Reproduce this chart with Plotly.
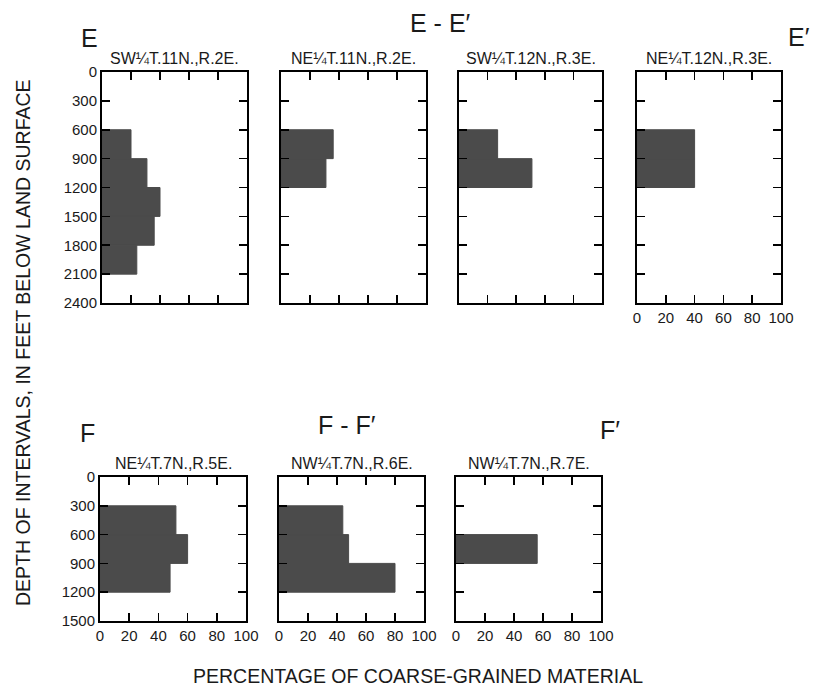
import plotly.graph_objects as go

# ---------------- data ----------------
interval = 300  # feet per interval

# E - E' section
e_titles = ["SW¼T.11N.,R.2E.", "NE¼T.11N.,R.2E.", "SW¼T.12N.,R.3E.", "NE¼T.12N.,R.3E."]
e1_top = [600, 900, 1200, 1500, 1800]
e1_pct = [20, 31, 40, 36, 24]
e2_top = [600, 900]
e2_pct = [36, 31]
e3_top = [600, 900]
e3_pct = [27, 51]
e4_top = [600, 900]
e4_pct = [40, 40]

# F - F' section
f_titles = ["NE¼T.7N.,R.5E.", "NW¼T.7N.,R.6E.", "NW¼T.7N.,R.7E."]
f1_top = [300, 600, 900]
f1_pct = [52, 60, 48]
f2_top = [300, 600, 900]
f2_pct = [44, 48, 80]
f3_top = [600]
f3_pct = [56]

x_ticks = [0, 20, 40, 60, 80, 100]
e_depth_ticks = [0, 300, 600, 900, 1200, 1500, 1800, 2100, 2400]
f_depth_ticks = [0, 300, 600, 900, 1200, 1500]

# ---------------- layout helpers ----------------
W, H = 814, 690
FONT = "Liberation Sans, Arial, Helvetica, sans-serif"
BAR = "#4b4b4b"
INK = "#1a1a1a"


def px_x(p):
    return p / W


def px_y(p):
    return 1 - p / H


panels = [
    # (tops, pct, title, x0, x1, y0, y1, maxdepth, yticks, show_y_labels, show_x_labels)
    (e1_top, e1_pct, e_titles[0], 102, 247, 72, 303, 2400, e_depth_ticks, True, False),
    (e2_top, e2_pct, e_titles[1], 281, 426, 72, 303, 2400, e_depth_ticks, False, False),
    (e3_top, e3_pct, e_titles[2], 459, 602, 72, 303, 2400, e_depth_ticks, False, False),
    (e4_top, e4_pct, e_titles[3], 637, 781, 72, 303, 2400, e_depth_ticks, False, True),
    (f1_top, f1_pct, f_titles[0], 100, 246, 477, 621, 1500, f_depth_ticks, True, True),
    (f2_top, f2_pct, f_titles[1], 279, 424, 477, 621, 1500, f_depth_ticks, False, True),
    (f3_top, f3_pct, f_titles[2], 456, 601, 477, 621, 1500, f_depth_ticks, False, True),
]

fig = go.Figure()
layout = {}
annotations = []

for i, (tops, pct, title, x0, x1, y0, y1, maxd, yt, sy, sx) in enumerate(panels, start=1):
    xa = "x" if i == 1 else f"x{i}"
    ya = "y" if i == 1 else f"y{i}"
    mids = [t + interval / 2 for t in tops]
    fig.add_trace(go.Bar(
        x=pct, y=mids, orientation="h", width=interval,
        marker=dict(color=BAR, line=dict(width=1, color=BAR)),
        xaxis=xa, yaxis=ya, showlegend=False, hoverinfo="skip",
    ))
    xkey = "xaxis" if i == 1 else f"xaxis{i}"
    ykey = "yaxis" if i == 1 else f"yaxis{i}"
    layout[xkey] = dict(
        domain=[px_x(x0), px_x(x1)], range=[0, 100], anchor=ya,
        tickvals=x_ticks, ticks="inside", ticklen=8, tickwidth=1.6, tickcolor="black",
        showline=True, linecolor="black", linewidth=2, mirror="ticks",
        showgrid=False, zeroline=False, showticklabels=sx, automargin=False,
        tickfont=dict(family=FONT, size=15, color=INK),
        fixedrange=True,
    )
    layout[ykey] = dict(
        domain=[px_y(y1), px_y(y0)], range=[maxd, 0], anchor=xa,
        tickvals=yt, ticks="inside", ticklen=8, tickwidth=1.6, tickcolor="black",
        showline=True, linecolor="black", linewidth=2, mirror="ticks",
        showgrid=False, zeroline=False, showticklabels=sy, automargin=False,
        tickfont=dict(family=FONT, size=15, color=INK),
        fixedrange=True,
    )
    annotations.append(dict(
        text=title, x=px_x((x0 + x1) / 2), y=px_y(y0 - 14), xref="paper", yref="paper",
        xanchor="center", yanchor="middle", showarrow=False,
        font=dict(family=FONT, size=16, color=INK),
    ))


def big(text, x, y, anchor="center", size=25):
    annotations.append(dict(
        text=text, x=px_x(x), y=px_y(y), xref="paper", yref="paper",
        xanchor=anchor, yanchor="middle", showarrow=False,
        font=dict(family=FONT, size=size, color=INK),
    ))


big("E", 79, 38, "left")
big("E - E′", 440, 23)
big("E′", 786, 37, "left")
big("F", 78, 433, "left")
big("F - F′", 347, 425)
big("F′", 598, 430, "left")

annotations.append(dict(
    text="DEPTH OF INTERVALS, IN FEET BELOW LAND SURFACE",
    x=px_x(23), y=px_y(343), xref="paper", yref="paper", textangle=-90,
    xanchor="center", yanchor="middle", showarrow=False,
    font=dict(family=FONT, size=19.5, color=INK),
))
annotations.append(dict(
    text="PERCENTAGE OF COARSE-GRAINED MATERIAL",
    x=px_x(418), y=px_y(676), xref="paper", yref="paper",
    xanchor="center", yanchor="middle", showarrow=False,
    font=dict(family=FONT, size=19.5, color=INK),
))

fig.update_layout(
    width=W, height=H,
    margin=dict(l=0, r=0, t=0, b=0, pad=0),
    paper_bgcolor="white", plot_bgcolor="white",
    annotations=annotations,
    showlegend=False,
    **layout,
)

fig.write_html(
    "out.html",
    config={"displayModeBar": False, "staticPlot": True},
    post_script="document.body.style.margin='0';",
)
